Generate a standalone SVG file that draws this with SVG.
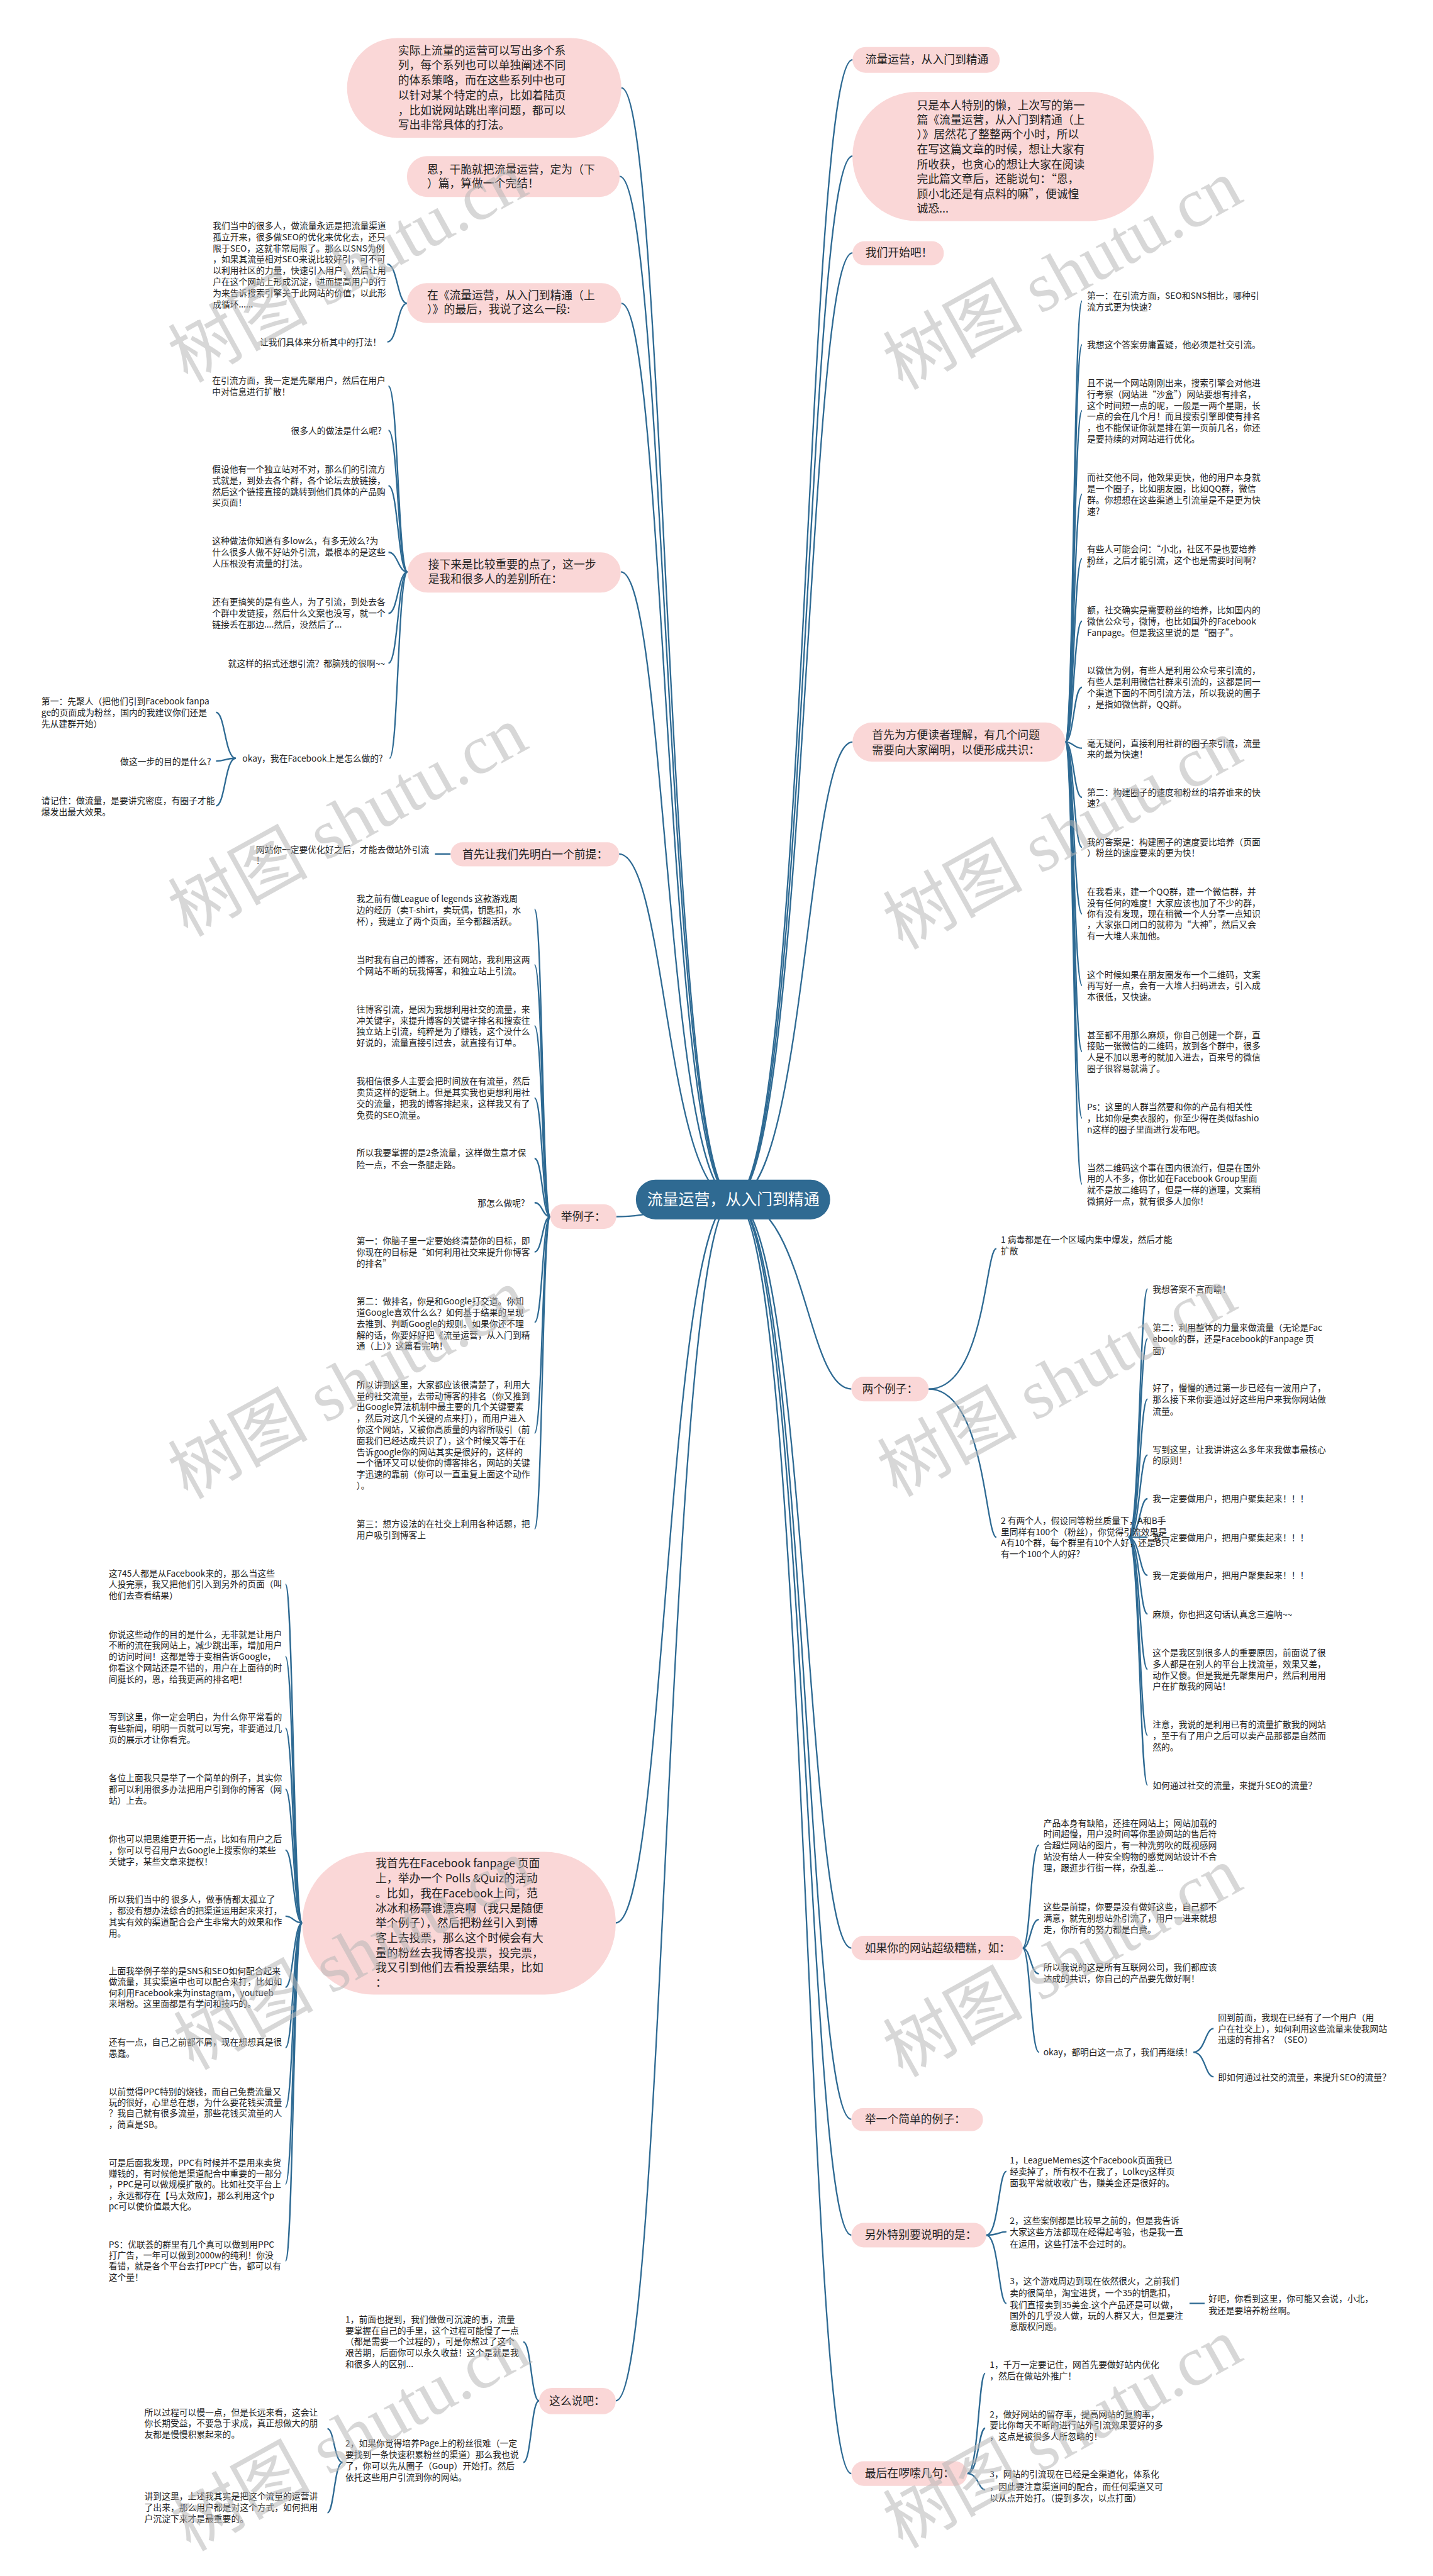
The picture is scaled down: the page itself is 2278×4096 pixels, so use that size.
<svg xmlns="http://www.w3.org/2000/svg" width="2278" height="4096" viewBox="0 0 2278 4096">
<style>
.lf{font-family:"Noto Sans CJK SC","Noto Sans",sans-serif;font-size:15.5px;fill:#222}
.nd{font-family:"Noto Sans CJK SC","Noto Sans",sans-serif;font-size:20px;fill:#222}
.ct{font-family:"Noto Sans CJK SC","Noto Sans",sans-serif;font-size:28px;fill:#fff}
.pk{fill:#fad7d7}
.cn path{fill:none;stroke:#2e6a93;stroke-width:2.6}
.wm{font-family:"Liberation Serif","Noto Sans CJK SC",serif;font-size:125px;fill:#b8b8b8;opacity:.55}
.e{text-anchor:end}
.m{text-anchor:middle}
</style>
<rect width="2278" height="4096" fill="#fff"/>
<g transform="scale(0.88984)">
<g id="connectors" class="cn">
<path d="M1310,2143 C1190,2143 1190,157 1110,157"/>
<path d="M1310,2143 C1190,2143 1190,315 1107,315"/>
<path d="M1310,2143 C1190,2143 1190,542 1110,542"/>
<path d="M1310,2143 C1190,2143 1190,1022 1109,1022"/>
<path d="M1310,2143 C1190,2143 1190,1526 1106,1526"/>
<path d="M1310,2143 C1190,2143 1190,2174 1101,2174"/>
<path d="M1310,2143 C1190,2143 1190,3436 1100,3436"/>
<path d="M1310,2143 C1190,2143 1190,4290 1100,4290"/>
<path d="M1310,2143 C1440,2143 1440,107 1523,107"/>
<path d="M1310,2143 C1440,2143 1440,279 1523,279"/>
<path d="M1310,2143 C1440,2143 1440,452 1523,452"/>
<path d="M1310,2143 C1440,2143 1440,1326 1523,1326"/>
<path d="M1310,2143 C1440,2143 1440,2482 1521,2482"/>
<path d="M1310,2143 C1440,2143 1440,3481 1521,3481"/>
<path d="M1310,2143 C1440,2143 1440,3787 1521,3787"/>
<path d="M1310,2143 C1440,2143 1440,3994 1521,3994"/>
<path d="M1310,2143 C1440,2143 1440,4420 1521,4420"/>
<path d="M727,542 C710,542 710,472 692,472"/>
<path d="M727,542 C710,542 710,611 692,611"/>
<path d="M728,1022 C711,1022 711,690 694,690"/>
<path d="M728,1022 C711,1022 711,769 694,769"/>
<path d="M728,1022 C711,1022 711,868 694,868"/>
<path d="M728,1022 C711,1022 711,987 694,987"/>
<path d="M728,1022 C711,1022 711,1096 694,1096"/>
<path d="M728,1022 C711,1022 711,1185 694,1185"/>
<path d="M728,1022 C711,1022 711,1355 696,1355"/>
<path d="M421,1355 C402,1355 402,1273 386,1273"/>
<path d="M421,1355 C402,1355 402,1360 386,1360"/>
<path d="M421,1355 C402,1355 402,1440 386,1440"/>
<path d="M805,1526 L777,1526"/>
<path d="M983,2174 C969,2174 969,1625 955,1625"/>
<path d="M983,2174 C969,2174 969,1724 955,1724"/>
<path d="M983,2174 C969,2174 969,1833 955,1833"/>
<path d="M983,2174 C969,2174 969,1962 955,1962"/>
<path d="M983,2174 C969,2174 969,2070 955,2070"/>
<path d="M983,2174 C969,2174 969,2149 955,2149"/>
<path d="M983,2174 C969,2174 969,2237 955,2237"/>
<path d="M983,2174 C969,2174 969,2363 955,2363"/>
<path d="M983,2174 C969,2174 969,2561 955,2561"/>
<path d="M983,2174 C969,2174 969,2732 955,2732"/>
<path d="M540,3436 C524,3436 524,2831 510,2831"/>
<path d="M540,3436 C524,3436 524,2960 510,2960"/>
<path d="M540,3436 C524,3436 524,3088 510,3088"/>
<path d="M540,3436 C524,3436 524,3197 510,3197"/>
<path d="M540,3436 C524,3436 524,3306 510,3306"/>
<path d="M540,3436 C524,3436 524,3424 510,3424"/>
<path d="M540,3436 C524,3436 524,3551 510,3551"/>
<path d="M540,3436 C524,3436 524,3659 510,3659"/>
<path d="M540,3436 C524,3436 524,3766 510,3766"/>
<path d="M540,3436 C524,3436 524,3903 510,3903"/>
<path d="M540,3436 C524,3436 524,4040 510,4040"/>
<path d="M963,4290 C949,4290 949,4185 935,4185"/>
<path d="M963,4290 C949,4290 949,4400 935,4400"/>
<path d="M612,4400 C597,4400 597,4340 585,4340"/>
<path d="M612,4400 C597,4400 597,4490 585,4490"/>
<path d="M1903,1326 C1918,1326 1918,538 1933,538"/>
<path d="M1903,1326 C1918,1326 1918,616 1933,616"/>
<path d="M1903,1326 C1918,1326 1918,734 1933,734"/>
<path d="M1903,1326 C1918,1326 1918,883 1933,883"/>
<path d="M1903,1326 C1918,1326 1918,998 1933,998"/>
<path d="M1903,1326 C1918,1326 1918,1110 1933,1110"/>
<path d="M1903,1326 C1918,1326 1918,1228 1933,1228"/>
<path d="M1903,1326 C1918,1326 1918,1337 1933,1337"/>
<path d="M1903,1326 C1918,1326 1918,1425 1933,1425"/>
<path d="M1903,1326 C1918,1326 1918,1514 1933,1514"/>
<path d="M1903,1326 C1918,1326 1918,1633 1933,1633"/>
<path d="M1903,1326 C1918,1326 1918,1761 1933,1761"/>
<path d="M1903,1326 C1918,1326 1918,1879 1933,1879"/>
<path d="M1903,1326 C1918,1326 1918,1998 1933,1998"/>
<path d="M1903,1326 C1918,1326 1918,2116 1933,2116"/>
<path d="M1659,2482 C1760,2482 1760,2231 1780,2231"/>
<path d="M1659,2482 C1760,2482 1760,2747 1780,2747"/>
<path d="M2016,2747 C2036,2747 2036,2303 2050,2303"/>
<path d="M2016,2747 C2036,2747 2036,2392 2050,2392"/>
<path d="M2016,2747 C2036,2747 2036,2500 2050,2500"/>
<path d="M2016,2747 C2036,2747 2036,2600 2050,2600"/>
<path d="M2016,2747 C2036,2747 2036,2678 2050,2678"/>
<path d="M2016,2747 L2050,2747"/>
<path d="M2016,2747 C2036,2747 2036,2815 2050,2815"/>
<path d="M2016,2747 C2036,2747 2036,2884 2050,2884"/>
<path d="M2016,2747 C2036,2747 2036,2983 2050,2983"/>
<path d="M2016,2747 C2036,2747 2036,3101 2050,3101"/>
<path d="M2016,2747 C2036,2747 2036,3190 2050,3190"/>
<path d="M1827,3481 C1841,3481 1841,3297 1856,3297"/>
<path d="M1827,3481 C1841,3481 1841,3430 1856,3430"/>
<path d="M1827,3481 C1841,3481 1841,3527 1856,3527"/>
<path d="M1827,3481 C1841,3481 1841,3667 1856,3667"/>
<path d="M2132,3667 C2153,3667 2153,3625 2168,3625"/>
<path d="M2132,3667 C2153,3667 2153,3711 2168,3711"/>
<path d="M1762,3994 C1784,3994 1784,3880 1798,3880"/>
<path d="M1762,3994 C1784,3994 1784,3988 1798,3988"/>
<path d="M1762,3994 C1784,3994 1784,4116 1798,4116"/>
<path d="M2125,4116 L2152,4116"/>
<path d="M1728,4420 C1748,4420 1748,4241 1760,4241"/>
<path d="M1728,4420 C1748,4420 1748,4339 1760,4339"/>
<path d="M1728,4420 C1748,4420 1748,4449 1760,4449"/>
</g>

<g id="center">
<rect x="1136" y="2108" width="347" height="71" rx="35" fill="#2f6a92"/>
<text class="ct m" x="1310" y="2153">流量运营，从入门到精通</text>
</g>

<g id="nL1"><rect class="pk" x="620" y="68" width="490" height="178" rx="89"/>
<text class="nd"><tspan x="711" y="98">实际上流量的运营可以写出多个系</tspan><tspan x="711" y="124">列，每个系列也可以单独阐述不同</tspan><tspan x="711" y="151">的体系策略，而在这些系列中也可</tspan><tspan x="711" y="177">以针对某个特定的点，比如着陆页</tspan><tspan x="711" y="204">，比如说网站跳出率问题，都可以</tspan><tspan x="711" y="230">写出非常具体的打法。</tspan></text></g>
<g id="nL2"><rect class="pk" x="727" y="279" width="380" height="73" rx="36"/>
<text class="nd"><tspan x="763" y="310">恩，干脆就把流量运营，定为（下</tspan><tspan x="763" y="335">）篇，算做一个完结！</tspan></text></g>
<g id="nL3"><rect class="pk" x="727" y="506" width="383" height="71" rx="35"/>
<text class="nd"><tspan x="763" y="535">在《流量运营，从入门到精通（上</tspan><tspan x="763" y="560">）》的最后，我说了这么一段:</tspan></text></g>
<g id="nL4"><rect class="pk" x="728" y="987" width="381" height="72" rx="36"/>
<text class="nd"><tspan x="765" y="1016">接下来是比较重要的点了，这一步</tspan><tspan x="765" y="1042">是我和很多人的差别所在：</tspan></text></g>
<g id="nL5"><rect class="pk" x="805" y="1505" width="301" height="43" rx="21"/>
<text class="nd" x="826" y="1534">首先让我们先明白一个前提：</text></g>
<g id="nL6"><rect class="pk" x="983" y="2152" width="118" height="44" rx="22"/>
<text class="nd m" x="1042" y="2181">举例子：</text></g>
<g id="nL7"><rect class="pk" x="540" y="3309" width="560" height="255" rx="127"/>
<text class="nd"><tspan x="671" y="3337">我首先在Facebook fanpage 页面</tspan><tspan x="671" y="3363">上，举办一个 Polls &amp;Quiz的活动</tspan><tspan x="671" y="3390">。比如，我在Facebook上问，范</tspan><tspan x="671" y="3417">冰冰和杨幂谁漂亮啊（我只是随便</tspan><tspan x="671" y="3443">举个例子），然后把粉丝引入到博</tspan><tspan x="671" y="3470">客上去投票，那么这个时候会有大</tspan><tspan x="671" y="3497">量的粉丝去我博客投票，投完票，</tspan><tspan x="671" y="3523">我又引到他们去看投票结果，比如</tspan><tspan x="671" y="3550">：</tspan></text></g>
<g id="nL8"><rect class="pk" x="963" y="4267" width="137" height="47" rx="23"/>
<text class="nd m" x="1031" y="4297">这么说吧：</text></g>

<g id="nR1"><rect class="pk" x="1523" y="84" width="263" height="46" rx="23"/>
<text class="nd" x="1546" y="114">流量运营，从入门到精通</text></g>
<g id="nR2"><rect class="pk" x="1523" y="164" width="538" height="231" rx="115"/>
<text class="nd"><tspan x="1638" y="195">只是本人特别的懒，上次写的第一</tspan><tspan x="1638" y="221">篇《流量运营，从入门到精通（上</tspan><tspan x="1638" y="247">）》居然花了整整两个小时，所以</tspan><tspan x="1638" y="274">在写这篇文章的时候，想让大家有</tspan><tspan x="1638" y="301">所收获，也贪心的想让大家在阅读</tspan><tspan x="1638" y="327">完此篇文章后，还能说句：“恩，</tspan><tspan x="1638" y="354">顾小北还是有点料的嘛”，便诚惶</tspan><tspan x="1638" y="380">诚恐...</tspan></text></g>
<g id="nR3"><rect class="pk" x="1523" y="431" width="163" height="43" rx="21"/>
<text class="nd" x="1546" y="459">我们开始吧！</text></g>
<g id="nR4"><rect class="pk" x="1523" y="1291" width="380" height="70" rx="35"/>
<text class="nd"><tspan x="1558" y="1321">首先为方便读者理解，有几个问题</tspan><tspan x="1558" y="1347">需要向大家阐明，以便形成共识：</tspan></text></g>
<g id="nR5"><rect class="pk" x="1521" y="2460" width="138" height="44" rx="22"/>
<text class="nd m" x="1590" y="2489">两个例子：</text></g>
<g id="nR6"><rect class="pk" x="1521" y="3459" width="306" height="44" rx="22"/>
<text class="nd" x="1545" y="3488">如果你的网站超级糟糕，如：</text></g>
<g id="nR7"><rect class="pk" x="1521" y="3767" width="235" height="41" rx="20"/>
<text class="nd" x="1545" y="3794">举一个简单的例子：</text></g>
<g id="nR8"><rect class="pk" x="1521" y="3972" width="241" height="44" rx="22"/>
<text class="nd" x="1545" y="4001">另外特别要说明的是：</text></g>
<g id="nR9"><rect class="pk" x="1521" y="4398" width="207" height="44" rx="22"/>
<text class="nd" x="1545" y="4427">最后在啰嗦几句：</text></g>

<g id="leavesL3">
<text class="lf"><tspan x="380" y="409">我们当中的很多人，做流量永远是把流量渠道</tspan><tspan x="380" y="429">孤立开来，很多做SEO的优化来优化去，还只</tspan><tspan x="380" y="449">限于SEO，这就非常局限了。那么以SNS为例</tspan><tspan x="380" y="469">，如果其流量相对SEO来说比较好引，可不可</tspan><tspan x="380" y="489">以利用社区的力量，快速引入用户，然后让用</tspan><tspan x="380" y="509">户在这个网站上形成沉淀，进而提高用户的行</tspan><tspan x="380" y="529">为来告诉搜索引擎关于此网站的价值，以此形</tspan><tspan x="380" y="549">成循环......</tspan></text>
<text class="lf e" x="681" y="617">让我们具体来分析其中的打法！</text>
</g>
<g id="leavesL4">
<text class="lf"><tspan x="379" y="686">在引流方面，我一定是先聚用户，然后在用户</tspan><tspan x="379" y="706">中对信息进行扩散！</tspan></text>
<text class="lf e" x="682" y="775">很多人的做法是什么呢?</text>
<text class="lf"><tspan x="379" y="844">假设他有一个独立站对不对，那么们的引流方</tspan><tspan x="379" y="864">式就是，到处去各个群，各个论坛去放链接，</tspan><tspan x="379" y="884">然后这个链接直接的跳转到他们具体的产品购</tspan><tspan x="379" y="904">买页面！</tspan></text>
<text class="lf"><tspan x="379" y="972">这种做法你知道有多low么，有多无效么?为</tspan><tspan x="379" y="992">什么很多人做不好站外引流，最根本的是这些</tspan><tspan x="379" y="1012">人压根没有流量的打法。</tspan></text>
<text class="lf"><tspan x="379" y="1081">还有更搞笑的是有些人，为了引流，到处去各</tspan><tspan x="379" y="1101">个群中发链接，然后什么文案也没写，就一个</tspan><tspan x="379" y="1121">链接丢在那边....然后，没然后了...</tspan></text>
<text class="lf e" x="688" y="1191">就这样的招式还想引流？都脑残的很啊~~</text>
<text class="lf e" x="684" y="1361">okay，我在Facebook上是怎么做的?</text>
<text class="lf"><tspan x="74" y="1259">第一：先聚人（把他们引到Facebook fanpa</tspan><tspan x="74" y="1279">ge的页面成为粉丝，国内的我建议你们还是</tspan><tspan x="74" y="1299">先从建群开始）</tspan></text>
<text class="lf e" x="377" y="1366">做这一步的目的是什么?</text>
<text class="lf"><tspan x="74" y="1436">请记住：做流量，是要讲究密度，有圈子才能</tspan><tspan x="74" y="1456">爆发出最大效果。</tspan></text>
</g>
<g id="leavesL5">
<text class="lf"><tspan x="457" y="1524">网站你一定要优化好之后，才能去做站外引流</tspan><tspan x="457" y="1543">！</tspan></text>
</g>
<g id="leavesL6">
<text class="lf"><tspan x="637" y="1612">我之前有做League of legends 这款游戏周</tspan><tspan x="637" y="1632">边的经历（卖T-shirt，卖玩偶，钥匙扣，水</tspan><tspan x="637" y="1652">杯），我建立了两个页面，至今都超活跃。</tspan></text>
<text class="lf"><tspan x="637" y="1720">当时我有自己的博客，还有网站，我利用这两</tspan><tspan x="637" y="1741">个网站不断的玩我博客，和独立站上引流。</tspan></text>
<text class="lf"><tspan x="637" y="1809">往博客引流，是因为我想利用社交的流量，来</tspan><tspan x="637" y="1829">冲关键字，来提升博客的关键字排名和搜索往</tspan><tspan x="637" y="1849">独立站上引流，纯粹是为了赚钱，这个没什么</tspan><tspan x="637" y="1869">好说的，流量直接引过去，就直接有订单。</tspan></text>
<text class="lf"><tspan x="637" y="1937">我相信很多人主要会把时间放在有流量，然后</tspan><tspan x="637" y="1958">卖货这样的逻辑上。但是其实我也更想利用社</tspan><tspan x="637" y="1978">交的流量，把我的博客排起来，这样我又有了</tspan><tspan x="637" y="1998">免费的SEO流量。</tspan></text>
<text class="lf"><tspan x="637" y="2066">所以我要掌握的是2条流量，这样做生意才保</tspan><tspan x="637" y="2087">险一点，不会一条腿走路。</tspan></text>
<text class="lf e" x="938" y="2155">那怎么做呢?</text>
<text class="lf"><tspan x="637" y="2223">第一：你脑子里一定要始终清楚你的目标，即</tspan><tspan x="637" y="2243">你现在的目标是“如何利用社交来提升你博客</tspan><tspan x="637" y="2263">的排名”</tspan></text>
<text class="lf"><tspan x="637" y="2331">第二：做排名，你是和Google打交道。你知</tspan><tspan x="637" y="2351">道Google喜欢什么么？如何基于结果的呈现</tspan><tspan x="637" y="2371">去推到、判断Google的规则。如果你还不理</tspan><tspan x="637" y="2391">解的话，你要好好把《流量运营，从入门到精</tspan><tspan x="637" y="2411">通（上）》这篇看完呐！</tspan></text>
<text class="lf"><tspan x="637" y="2480">所以讲到这里，大家都应该很清楚了，利用大</tspan><tspan x="637" y="2500">量的社交流量，去带动博客的排名（你又推到</tspan><tspan x="637" y="2520">出Google算法机制中最主要的几个关键要素</tspan><tspan x="637" y="2540">，然后对这几个关键的点来打），而用户进入</tspan><tspan x="637" y="2560">你这个网站，又被你高质量的内容所吸引（前</tspan><tspan x="637" y="2580">面我们已经达成共识了），这个时候又等于在</tspan><tspan x="637" y="2600">告诉google你的网站其实是很好的，这样的</tspan><tspan x="637" y="2620">一个循环又可以使你的博客排名，网站的关键</tspan><tspan x="637" y="2640">字迅速的靠前（你可以一直重复上面这个动作</tspan><tspan x="637" y="2660">）。</tspan></text>
<text class="lf"><tspan x="637" y="2729">第三：想方设法的在社交上利用各种话题，把</tspan><tspan x="637" y="2749">用户吸引到博客上</tspan></text>
</g>
<g id="leavesL7">
<text class="lf"><tspan x="194" y="2817">这745人都是从Facebook来的，那么当这些</tspan><tspan x="194" y="2837">人投完票，我又把他们引入到另外的页面（叫</tspan><tspan x="194" y="2857">他们去查看结果）</tspan></text>
<text class="lf"><tspan x="194" y="2926">你说这些动作的目的是什么，无非就是让用户</tspan><tspan x="194" y="2946">不断的流在我网站上，减少跳出率，增加用户</tspan><tspan x="194" y="2966">的访问时间！这都是等于变相告诉Google，</tspan><tspan x="194" y="2986">你看这个网站还是不错的，用户在上面待的时</tspan><tspan x="194" y="3006">间挺长的，恩，给我更高的排名吧！</tspan></text>
<text class="lf"><tspan x="194" y="3074">写到这里，你一定会明白，为什么你平常看的</tspan><tspan x="194" y="3094">有些新闻，明明一页就可以写完，非要通过几</tspan><tspan x="194" y="3114">页的展示才让你看完。</tspan></text>
<text class="lf"><tspan x="194" y="3183">各位上面我只是举了一个简单的例子，其实你</tspan><tspan x="194" y="3203">都可以利用很多办法把用户引到你的博客（网</tspan><tspan x="194" y="3223">站）上去。</tspan></text>
<text class="lf"><tspan x="194" y="3292">你也可以把思维更开拓一点，比如有用户之后</tspan><tspan x="194" y="3312">，你可以号召用户去Google上搜索你的某些</tspan><tspan x="194" y="3332">关键字，某些文章来提权！</tspan></text>
<text class="lf"><tspan x="194" y="3400">所以我们当中的 很多人，做事情都太孤立了</tspan><tspan x="194" y="3420">，都没有想办法综合的把渠道运用起来来打，</tspan><tspan x="194" y="3440">其实有效的渠道配合会产生非常大的效果和作</tspan><tspan x="194" y="3460">用。</tspan></text>
<text class="lf"><tspan x="194" y="3528">上面我举例子举的是SNS和SEO如何配合起来</tspan><tspan x="194" y="3547">做流量，其实渠道中也可以配合来打，比如如</tspan><tspan x="194" y="3567">何利用Facebook来为instagram，youtueb</tspan><tspan x="194" y="3586">来增粉。这里面都是有学问和技巧的。</tspan></text>
<text class="lf"><tspan x="194" y="3655">还有一点，自己之前都不屑，现在想想真是很</tspan><tspan x="194" y="3675">愚蠢。</tspan></text>
<text class="lf"><tspan x="194" y="3743">以前觉得PPC特别的烧钱，而自己免费流量又</tspan><tspan x="194" y="3763">玩的很好，心里总在想，为什么要花钱买流量</tspan><tspan x="194" y="3782">？我自己就有很多流量，那些花钱买流量的人</tspan><tspan x="194" y="3802">，简直是SB。</tspan></text>
<text class="lf"><tspan x="194" y="3870">可是后面我发现，PPC有时候并不是用来卖货</tspan><tspan x="194" y="3889">赚钱的，有时候他是渠道配合中重要的一部分</tspan><tspan x="194" y="3909">，PPC是可以做规模扩散的。比如社交平台上</tspan><tspan x="194" y="3929">，永远都存在【马太效应】，那么利用这个p</tspan><tspan x="194" y="3948">pc可以使价值最大化。</tspan></text>
<text class="lf"><tspan x="194" y="4016">PS：优联荟的群里有几个真可以做到用PPC</tspan><tspan x="194" y="4035">打广告，一年可以做到2000w的纯利！你没</tspan><tspan x="194" y="4055">看错，就是各个平台去打PPC广告，都可以有</tspan><tspan x="194" y="4075">这个量！</tspan></text>
</g>
<g id="leavesL8">
<text class="lf"><tspan x="617" y="4150">1，前面也提到，我们做做可沉淀的事，流量</tspan><tspan x="617" y="4170">要掌握在自己的手里，这个过程可能慢了一点</tspan><tspan x="617" y="4190">（都是需要一个过程的），可是你熬过了这个</tspan><tspan x="617" y="4210">艰苦期，后面你可以永久收益！这个是就是我</tspan><tspan x="617" y="4230">和很多人的区别...</tspan></text>
<text class="lf"><tspan x="617" y="4372">2，如果你觉得培养Page上的粉丝很难（一定</tspan><tspan x="617" y="4392">要找到一条快速积累粉丝的渠道）那么我也说</tspan><tspan x="617" y="4412">了，你可以先从圈子（Goup）开始打。然后</tspan><tspan x="617" y="4432">依托这些用户引流到你的网站。</tspan></text>
<text class="lf"><tspan x="258" y="4316">所以过程可以慢一点，但是长远来看，这会让</tspan><tspan x="258" y="4336">你长期受益，不要急于求成，真正想做大的朋</tspan><tspan x="258" y="4356">友都是慢慢积累起来的。</tspan></text>
<text class="lf"><tspan x="258" y="4466">讲到这里，上述我其实是把这个流量的运营讲</tspan><tspan x="258" y="4486">了出来，那么用户都是对这个方式，如何把用</tspan><tspan x="258" y="4506">户沉淀下来才是最重要的。</tspan></text>
</g>

<g id="leavesR4">
<text class="lf"><tspan x="1942" y="534">第一：在引流方面，SEO和SNS相比，哪种引</tspan><tspan x="1942" y="554">流方式更为快速?</tspan></text>
<text class="lf" x="1942" y="622">我想这个答案毋庸置疑，他必须是社交引流。</text>
<text class="lf"><tspan x="1942" y="690">且不说一个网站刚刚出来，搜索引擎会对他进</tspan><tspan x="1942" y="710">行考察（网站进“沙盒”）网站要想有排名，</tspan><tspan x="1942" y="730">这个时间短一点的呢，一般是一两个星期，长</tspan><tspan x="1942" y="750">一点的会在几个月！而且搜索引擎即使有排名</tspan><tspan x="1942" y="770">，也不能保证你就是排在第一页前几名，你还</tspan><tspan x="1942" y="790">是要持续的对网站进行优化。</tspan></text>
<text class="lf"><tspan x="1942" y="859">而社交他不同，他效果更快，他的用户本身就</tspan><tspan x="1942" y="879">是一个圈子，比如朋友圈，比如QQ群，微信</tspan><tspan x="1942" y="899">群。你想想在这些渠道上引流量是不是更为快</tspan><tspan x="1942" y="919">速?</tspan></text>
<text class="lf"><tspan x="1942" y="987">有些人可能会问：“小北，社区不是也要培养</tspan><tspan x="1942" y="1007">粉丝，之后才能引流，这个也是需要时间啊?</tspan><tspan x="1942" y="1024">”</tspan></text>
<text class="lf"><tspan x="1942" y="1096">额，社交确实是需要粉丝的培养，比如国内的</tspan><tspan x="1942" y="1116">微信公众号，微博，也比如国外的Facebook</tspan><tspan x="1942" y="1136">Fanpage。但是我这里说的是“圈子”。</tspan></text>
<text class="lf"><tspan x="1942" y="1204">以微信为例，有些人是利用公众号来引流的，</tspan><tspan x="1942" y="1224">有些人是利用微信社群来引流的，这都是同一</tspan><tspan x="1942" y="1244">个渠道下面的不同引流方法，所以我说的圈子</tspan><tspan x="1942" y="1264">，是指如微信群，QQ群。</tspan></text>
<text class="lf"><tspan x="1942" y="1334">毫无疑问，直接利用社群的圈子来引流，流量</tspan><tspan x="1942" y="1353">来的最为快速！</tspan></text>
<text class="lf"><tspan x="1942" y="1422">第二：构建圈子的速度和粉丝的培养谁来的快</tspan><tspan x="1942" y="1441">速?</tspan></text>
<text class="lf"><tspan x="1942" y="1510">我的答案是：构建圈子的速度要比培养（页面</tspan><tspan x="1942" y="1530">）粉丝的速度要来的更为快！</tspan></text>
<text class="lf"><tspan x="1942" y="1599">在我看来，建一个QQ群，建一个微信群，并</tspan><tspan x="1942" y="1619">没有任何的难度！大家应该也加了不少的群，</tspan><tspan x="1942" y="1639">你有没有发现，现在稍微一个人分享一点知识</tspan><tspan x="1942" y="1658">，大家张口闭口的就称为“大神”，然后又会</tspan><tspan x="1942" y="1678">有一大堆人来加他。</tspan></text>
<text class="lf"><tspan x="1942" y="1747">这个时候如果在朋友圈发布一个二维码，文案</tspan><tspan x="1942" y="1767">再写好一点，会有一大堆人扫码进去，引入成</tspan><tspan x="1942" y="1787">本很低，又快速。</tspan></text>
<text class="lf"><tspan x="1942" y="1855">甚至都不用那么麻烦，你自己创建一个群，直</tspan><tspan x="1942" y="1875">接贴一张微信的二维码，放到各个群中，很多</tspan><tspan x="1942" y="1895">人是不加以思考的就加入进去，百来号的微信</tspan><tspan x="1942" y="1915">圈子很容易就满了。</tspan></text>
<text class="lf"><tspan x="1942" y="1984">Ps：这里的人群当然要和你的产品有相关性</tspan><tspan x="1942" y="2004">，比如你是卖衣服的，你至少得在类似fashio</tspan><tspan x="1942" y="2024">n这样的圈子里面进行发布吧。</tspan></text>
<text class="lf"><tspan x="1942" y="2092">当然二维码这个事在国内很流行，但是在国外</tspan><tspan x="1942" y="2112">用的人不多，你比如在Facebook Group里面</tspan><tspan x="1942" y="2132">就不是放二维码了，但是一样的道理，文案稍</tspan><tspan x="1942" y="2152">微搞好一点，就有很多人加你！</tspan></text>
</g>
<g id="leavesR5">
<text class="lf"><tspan x="1788" y="2221">1 病毒都是在一个区域内集中爆发，然后才能</tspan><tspan x="1788" y="2241">扩散</tspan></text>
<text class="lf"><tspan x="1788" y="2723">2 有两个人，假设同等粉丝质量下，A和B手</tspan><tspan x="1788" y="2743">里同样有100个（粉丝），你觉得引流效果是</tspan><tspan x="1788" y="2762">A有10个群，每个群里有10个人好，还是B只</tspan><tspan x="1788" y="2783">有一个100个人的好?</tspan></text>
<text class="lf" x="2059" y="2309">我想答案不言而喻！</text>
<text class="lf"><tspan x="2059" y="2378">第二：利用整体的力量来做流量（无论是Fac</tspan><tspan x="2059" y="2398">ebook的群，还是Facebook的Fanpage 页</tspan><tspan x="2059" y="2419">面）</tspan></text>
<text class="lf"><tspan x="2059" y="2486">好了，慢慢的通过第一步已经有一波用户了，</tspan><tspan x="2059" y="2506">那么接下来你要通过好这些用户来我你网站做</tspan><tspan x="2059" y="2527">流量。</tspan></text>
<text class="lf"><tspan x="2059" y="2596">写到这里，让我讲讲这么多年来我做事最核心</tspan><tspan x="2059" y="2615">的原则！</tspan></text>
<text class="lf" x="2059" y="2684">我一定要做用户，把用户聚集起来！！！</text>
<text class="lf" x="2059" y="2753">我一定要做用户，把用户聚集起来！！！</text>
<text class="lf" x="2059" y="2821">我一定要做用户，把用户聚集起来！！！</text>
<text class="lf" x="2059" y="2890">麻烦，你也把这句话认真念三遍呐~~</text>
<text class="lf"><tspan x="2059" y="2959">这个是我区别很多人的重要原因，前面说了很</tspan><tspan x="2059" y="2979">多人都是在别人的平台上找流量，效果又差，</tspan><tspan x="2059" y="2999">动作又傻。但是我是先聚集用户，然后利用用</tspan><tspan x="2059" y="3019">户在扩散我的网站！</tspan></text>
<text class="lf"><tspan x="2059" y="3087">注意，我说的是利用已有的流量扩散我的网站</tspan><tspan x="2059" y="3107">，至于有了用户之后可以卖产品那都是自然而</tspan><tspan x="2059" y="3127">然的。</tspan></text>
<text class="lf" x="2059" y="3196">如何通过社交的流量，来提升SEO的流量？</text>
</g>
<g id="leavesR6">
<text class="lf"><tspan x="1864" y="3263">产品本身有缺陷，还挂在网站上；网站加载的</tspan><tspan x="1864" y="3283">时间超慢，用户没时间等你墨迹网站的售后符</tspan><tspan x="1864" y="3303">合超烂网站的图片，有一种洗剪吹的既视感网</tspan><tspan x="1864" y="3323">站没有给人一种安全购物的感觉网站设计不合</tspan><tspan x="1864" y="3343">理，跟逛步行街一样，杂乱差...</tspan></text>
<text class="lf"><tspan x="1864" y="3413">这些是前提，你要是没有做好这些，自己都不</tspan><tspan x="1864" y="3433">满意，就先别想站外引流了，用户一进来就想</tspan><tspan x="1864" y="3453">走，你所有的努力都是白费。</tspan></text>
<text class="lf"><tspan x="1864" y="3521">所以我说的这是所有互联网公司，我们都应该</tspan><tspan x="1864" y="3541">达成的共识，你自己的产品要先做好啊！</tspan></text>
<text class="lf" x="1864" y="3673">okay，都明白这一点了，我们再继续！</text>
<text class="lf"><tspan x="2176" y="3611">回到前面，我现在已经有了一个用户（用</tspan><tspan x="2176" y="3631">户在社交上），如何利用这些流量来使我网站</tspan><tspan x="2176" y="3650">迅速的有排名？（SEO）</tspan></text>
<text class="lf" x="2176" y="3717">即如何通过社交的流量，来提升SEO的流量？</text>
</g>
<g id="leavesR8">
<text class="lf"><tspan x="1804" y="3866">1，LeagueMemes这个Facebook页面我已</tspan><tspan x="1804" y="3886">经卖掉了，所有权不在我了，Lolkey这样页</tspan><tspan x="1804" y="3906">面我平常就收收广告，赚美金还是很好的。</tspan></text>
<text class="lf"><tspan x="1804" y="3974">2，这些案例都是比较早之前的，但是我告诉</tspan><tspan x="1804" y="3994">大家这些方法都现在经得起考验，也是我一直</tspan><tspan x="1804" y="4015">在运用，这些打法不会过时的。</tspan></text>
<text class="lf"><tspan x="1804" y="4082">3，这个游戏周边到现在依然很火，之前我们</tspan><tspan x="1804" y="4103">卖的很简单，淘宝进货，一个35的钥匙扣，</tspan><tspan x="1804" y="4124">我们直接卖到35美金.这个产品还是可以做，</tspan><tspan x="1804" y="4144">国外的几乎没人做，玩的人群又大，但是要注</tspan><tspan x="1804" y="4163">意版权问题。</tspan></text>
<text class="lf"><tspan x="2159" y="4113">好吧，你看到这里，你可能又会说，小北，</tspan><tspan x="2159" y="4134">我还是要培养粉丝啊。</tspan></text>
</g>
<g id="leavesR9">
<text class="lf"><tspan x="1768" y="4231">1，千万一定要记住，网首先要做好站内优化</tspan><tspan x="1768" y="4251">，然后在做站外推广！</tspan></text>
<text class="lf"><tspan x="1768" y="4320">2，做好网站的留存率，提高网站的复购率，</tspan><tspan x="1768" y="4339">要比你每天不断的进行站外引流效果要好的多</tspan><tspan x="1768" y="4359">，这点是被很多人所忽略的！</tspan></text>
<text class="lf"><tspan x="1768" y="4427">3，网站的引流现在已经是全渠道化，体系化</tspan><tspan x="1768" y="4449">，因此要注意渠道间的配合，而任何渠道又可</tspan><tspan x="1768" y="4469">以从点开始打。（提到多次，以点打面）</tspan></text>
</g>

<g id="watermarks">
<text class="wm" transform="translate(335,685) rotate(-29)">树图 shutu.cn</text>
<text class="wm" transform="translate(335,1675) rotate(-29)">树图 shutu.cn</text>
<text class="wm" transform="translate(335,2680) rotate(-29)">树图 shutu.cn</text>
<text class="wm" transform="translate(345,3700) rotate(-29)">树图 shutu.cn</text>
<text class="wm" transform="translate(340,4560) rotate(-29)">树图 shutu.cn</text>
<text class="wm" transform="translate(1612,698) rotate(-29)">树图 shutu.cn</text>
<text class="wm" transform="translate(1612,1698) rotate(-29)">树图 shutu.cn</text>
<text class="wm" transform="translate(1602,2676) rotate(-29)">树图 shutu.cn</text>
<text class="wm" transform="translate(1612,3713) rotate(-29)">树图 shutu.cn</text>
<text class="wm" transform="translate(1612,4555) rotate(-29)">树图 shutu.cn</text>
</g>
</g>
</svg>
